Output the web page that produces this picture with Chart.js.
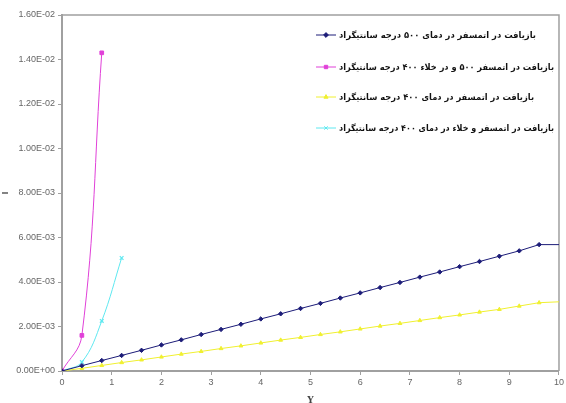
<!DOCTYPE html>
<html lang="fa">
<head>
<meta charset="UTF-8">
<title>Recovery chart</title>
<script src="https://cdn.jsdelivr.net/npm/chart.js"></script>
<style>
    html, body { margin: 0; padding: 0; background: #fff; }
    #wrap { width: 566px; height: 403px; position: relative; }
</style>
</head>
<body>
<div id="wrap"><canvas id="c"></canvas></div>
<script>
// data
const seriesNames = [
    'بازیافت در اتمسفر در دمای ۵۰۰ درجه سانتیگراد',
    'بازیافت در اتمسفر ۵۰۰ و در خلاء ۴۰۰ درجه سانتیگراد',
    'بازیافت در اتمسفر در دمای ۴۰۰ درجه سانتیگراد',
    'بازیافت در اتمسفر و خلاء در دمای ۴۰۰ درجه سانتیگراد'
];
const xLong = [0, 0.4, 0.8, 1.2, 1.6, 2, 2.4, 2.8, 3.2, 3.6, 4, 4.4, 4.8, 5.2, 5.6, 6, 6.4, 6.8, 7.2, 7.6, 8, 8.4, 8.8, 9.2, 9.6, 10];
const navyY = [0, 0.24, 0.47, 0.70, 0.93, 1.17, 1.40, 1.64, 1.87, 2.10, 2.34, 2.57, 2.81, 3.04, 3.28, 3.51, 3.75, 3.98, 4.22, 4.45, 4.69, 4.92, 5.16, 5.40, 5.68, 5.68];
const yellowY = [0, 0.12, 0.25, 0.38, 0.50, 0.63, 0.76, 0.88, 1.01, 1.13, 1.26, 1.39, 1.51, 1.64, 1.76, 1.89, 2.02, 2.14, 2.27, 2.40, 2.52, 2.65, 2.77, 2.92, 3.07, 3.11];
const magentaX = [0, 0.4, 0.8];
const magentaY = [0, 1.6, 14.3];
const cyanX = [0, 0.4, 0.8, 1.2];
const cyanY = [0, 0.4, 2.25, 5.08];
const xTitle = 'Y';
const yTitle = 'I';

const colors = ['#1c1c78', '#e040d8', '#f0f030', '#5ee8f0'];
const styles = ['rectRot', 'rect', 'triangle', 'crossRot'];

// values are in units of 1e-3
const pts = (xs, ys) => xs.map((x, i) => ({ x: x, y: ys[i] / 1000 }));

const sets = [
    pts(xLong, navyY),
    pts(magentaX, magentaY),
    pts(xLong, yellowY),
    pts(cyanX, cyanY)
];

const datasets = sets.map((d, i) => ({
    label: seriesNames[i],
    data: d,
    showLine: true,
    borderColor: colors[i],
    backgroundColor: colors[i],
    borderWidth: 1,
    pointStyle: styles[i],
    pointRadius: i === 0 || i === 2 ? d.map((p, k) => k === d.length - 1 ? 0 : 2.2) : 2.6,
    pointBorderWidth: i === 3 ? 1.2 : 1,
    tension: i === 1 || i === 3 ? 0.4 : 0
}));

// top/right frame + legend drawn inside plot area
const framePlugin = {
    id: 'frame',
    beforeDatasetsDraw(chart) {
        const a = chart.chartArea, ctx = chart.ctx;
        ctx.save();
        ctx.strokeStyle = '#a0a0a0';
        ctx.lineWidth = 1.5;
        ctx.beginPath();
        ctx.moveTo(a.left, a.top);
        ctx.lineTo(a.right, a.top);
        ctx.lineTo(a.right, a.bottom);
        ctx.stroke();
        ctx.restore();
    },
    afterDraw(chart) {
        const ctx = chart.ctx;
        const rows = [35, 67, 97, 128];
        const textW = [197, 215, 195, 215]; // widths in the reference
        ctx.save();
        ctx.font = 'bold 8.6px "DejaVu Sans"';
        ctx.textBaseline = 'middle';
        ctx.textAlign = 'left';
        rows.forEach((y, i) => {
            ctx.strokeStyle = colors[i];
            ctx.fillStyle = colors[i];
            ctx.lineWidth = 1;
            ctx.beginPath();
            ctx.moveTo(316, y);
            ctx.lineTo(336, y);
            ctx.stroke();
            Chart.helpers.drawPoint(ctx, {
                pointStyle: styles[i], radius: 2.4, borderWidth: 1
            }, 326, y);
            ctx.fillStyle = '#111';
            const w = ctx.measureText(seriesNames[i]).width;
            ctx.save();
            ctx.translate(339, y + 1);
            ctx.scale(textW[i] / w, 1);
            ctx.fillText(seriesNames[i], 0, 0);
            ctx.restore();
        });
        ctx.restore();
    }
};

new Chart(document.getElementById('c'), {
    type: 'scatter',
    data: { datasets: datasets },
    options: {
        responsive: true,
        maintainAspectRatio: false,
        animation: false,
        layout: { padding: { left: 0, top: 15, right: 1, bottom: 0 } },
        plugins: {
            legend: { display: false },
            tooltip: { enabled: false }
        },
        scales: {
            x: {
                type: 'linear',
                min: 0, max: 10,
                ticks: { stepSize: 1, color: '#666', font: { family: 'Arial', size: 9 }, padding: 2 },
                grid: { display: true, drawOnChartArea: false, tickLength: 4, color: '#a0a0a0' },
                border: { color: '#a0a0a0', width: 2 },
                title: { display: true, text: xTitle, color: '#444', font: { family: 'DejaVu Serif', size: 9, weight: 'bold' }, padding: { top: 0, bottom: -3 } },
                afterFit(s) { s.height = 32; }
            },
            y: {
                min: 0, max: 0.016,
                ticks: {
                    stepSize: 0.002, color: '#666', font: { family: 'Arial', size: 9 }, padding: 3,
                    callback: v => {
                        const [m, e] = Number(v).toExponential(2).split('e');
                        const n = parseInt(e, 10);
                        return m.toUpperCase() + 'E' + (n < 0 ? '-' : '+') + String(Math.abs(n)).padStart(2, '0');
                    }
                },
                grid: { display: true, drawOnChartArea: false, tickLength: 4, color: '#a0a0a0' },
                border: { color: '#a0a0a0', width: 2 },
                title: { display: true, text: yTitle, color: '#444', font: { family: 'Arial', size: 9, weight: 'bold' }, padding: 0 },
                afterFit(s) { s.width = 62; }
            }
        }
    },
    plugins: [framePlugin]
});
</script>
</body>
</html>
